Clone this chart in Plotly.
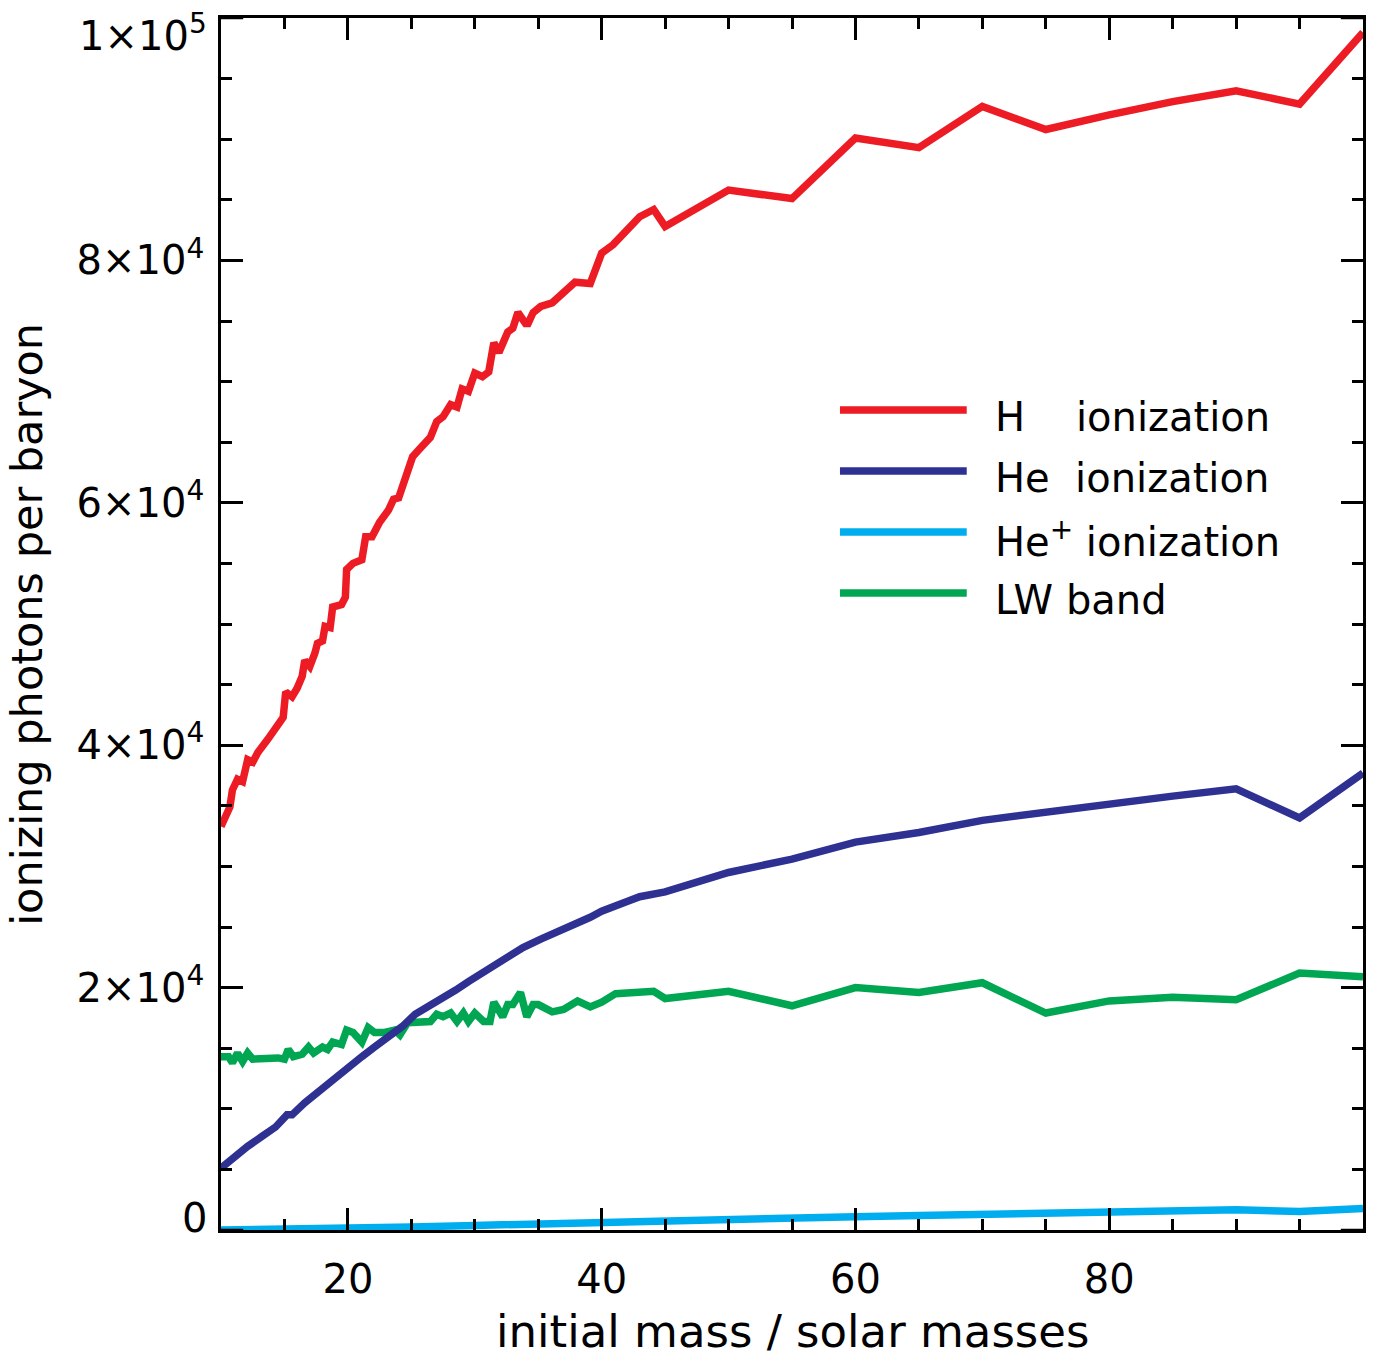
import plotly.graph_objects as go

# ---- data (photons per baryon, in units of 1000) ----
mass_h = [10.0, 10.3, 10.7, 10.9, 11.3, 11.7, 12.1, 12.5, 12.9, 13.7,
          14.4, 14.9, 15.1, 15.6, 16.0, 16.4, 16.6, 17.0, 17.4, 17.6,
          18.0, 18.2, 18.6, 18.8, 19.5, 19.8, 19.9, 20.4, 21.1, 21.4,
          21.9, 22.5, 23.2, 23.6, 24.0, 24.5, 25.1, 25.7, 26.5, 27.0,
          27.5, 28.1, 28.6, 29.0, 29.5, 30.0, 30.6, 31.1, 31.5, 31.9,
          32.6, 33.0, 33.4, 34.0, 34.2, 34.6, 35.2, 36.1, 37.0, 37.9,
          39.1, 40.0, 40.9, 42.0, 43.0, 44.1, 45.0,
          50, 55, 60, 65, 70, 75, 80, 85, 90, 95, 100]
h_ion = [33.3, 34.1, 34.9, 36.3, 37.2, 37.0, 38.8, 38.6, 39.4, 40.5,
         41.5, 42.3, 44.4, 44.0, 44.7, 45.7, 47.0, 46.5, 47.6, 48.4,
         48.6, 49.8, 49.7, 51.4, 51.6, 52.2, 54.5, 55.0, 55.3, 57.2,
         57.2, 58.4, 59.4, 60.3, 60.4, 62.1, 63.8, 64.5, 65.4, 66.7,
         67.1, 68.1, 67.9, 69.4, 69.2, 70.7, 70.4, 70.8, 73.2, 72.4,
         74.1, 74.4, 75.7, 74.8, 74.8, 75.7, 76.2, 76.5, 77.4, 78.2,
         78.1, 80.6, 81.3, 82.5, 83.6, 84.2, 82.8,
         85.8, 85.1, 90.1, 89.3, 92.7, 90.8, 92.0, 93.1, 94.0, 92.9, 98.8]

mass_he = [10.0, 11.1, 12.1, 13.2, 14.3, 15.2, 15.6, 16.6, 17.4, 18.2,
           19.2, 20.0, 21.1, 22.1, 23.2, 24.3, 25.3, 26.3, 27.4, 28.5,
           29.5, 30.6, 31.6, 32.6, 33.8, 35.2, 36.7, 38.1, 39.1, 40.0,
           40.9, 42.0, 43.0, 44.1, 45.0,
           50, 55, 60, 65, 70, 75, 80, 85, 90, 95, 100]
he_ion = [5.1, 6.1, 6.9, 7.7, 8.5, 9.5, 9.5, 10.5, 11.2, 11.8,
          12.7, 13.4, 14.3, 15.1, 15.9, 16.8, 17.8, 18.4, 19.2, 19.8,
          20.5, 21.2, 21.9, 22.6, 23.3, 24.0, 24.7, 25.2, 25.8, 26.3,
          26.6, 27.1, 27.5, 27.8, 27.9,
          29.5, 30.6, 32.0, 32.8, 33.8, 34.5, 35.1, 35.8, 36.4, 34.0, 37.7]

mass_hep = [10, 15, 20, 25, 30, 35, 40, 45, 50, 55, 60, 65, 70, 75, 80, 85, 90, 95, 100]
hep_ion = [0.0, 0.05, 0.15, 0.25, 0.38, 0.52, 0.65, 0.76, 0.88, 1.0,
           1.1, 1.2, 1.3, 1.38, 1.5, 1.58, 1.68, 1.52, 1.77]

mass_lw = [10.0, 10.6, 10.9, 11.3, 11.7, 12.1, 12.5, 13.5, 14.5, 15.0,
           15.3, 15.7, 16.4, 16.9, 17.3, 18.0, 18.4, 18.8, 19.5, 19.9,
           20.4, 21.1, 21.6, 22.1, 22.9, 23.7, 24.1, 24.7, 25.7, 26.5,
           27.0, 27.5, 28.1, 28.6, 29.1, 29.5, 30.0, 30.7, 31.2, 31.5,
           32.2, 32.6, 33.0, 33.6, 34.1, 34.6, 35.0, 36.1, 37.0, 38.1,
           39.1, 40.0, 41.1, 42.5, 43.2, 44.1, 45.0,
           50, 55, 60, 65, 70, 75, 80, 85, 90, 95, 100]
lw_band = [14.3, 14.3, 13.8, 14.6, 13.9, 14.6, 14.1, 14.2, 14.2, 14.1,
           14.9, 14.3, 14.5, 15.1, 14.6, 15.1, 14.9, 15.5, 15.3, 16.5,
           16.3, 15.5, 16.7, 16.3, 16.3, 16.5, 16.1, 17.1, 17.2, 17.2,
           17.8, 17.6, 17.9, 17.2, 17.9, 17.2, 17.9, 17.2, 17.2, 18.8,
           17.6, 18.6, 18.6, 19.6, 17.6, 18.6, 18.6, 18.0, 18.2, 18.9,
           18.4, 18.8, 19.5, 19.6, 19.7, 19.7, 19.1,
           19.7, 18.5, 20.0, 19.6, 20.4, 17.9, 18.9, 19.2, 19.0, 21.2, 20.9]

series_names = ["H\u00a0\u00a0\u00a0\u00a0ionization",
                "He\u00a0\u00a0ionization",
                "He<sup>+</sup> ionization",
                "LW band"]
series_colors = ["#ED1C24", "#2E3192", "#00AEEF", "#00A651"]

y_tickvals = [20000, 40000, 60000, 80000]
y_ticktext = ["2×10<sup>4</sup>", "4×10<sup>4</sup>", "6×10<sup>4</sup>", "8×10<sup>4</sup>"]
y_end_vals = [0, 100000]
y_end_text = ["0", "1×10<sup>5</sup>"]
y_end_shift = [12, -15]
x_tickvals = [20, 40, 60, 80]

FONT = "DejaVu Sans"
LW = 7.5

fig = go.Figure()
data_sets = [(mass_h, h_ion, 0), (mass_lw, lw_band, 3), (mass_hep, hep_ion, 2), (mass_he, he_ion, 1)]
for m, v, i in data_sets:
    fig.add_trace(go.Scatter(x=m, y=[a * 1000 for a in v], mode="lines",
                             line=dict(color=series_colors[i], width=LW),
                             name=series_names[i], showlegend=False))

# manual legend
leg_y = [0.6766, 0.6262, 0.5759, 0.5256]
for i in range(4):
    fig.add_shape(type="line", xref="paper", yref="paper",
                  x0=0.542, x1=0.653, y0=leg_y[i], y1=leg_y[i],
                  line=dict(color=series_colors[i], width=LW))
    fig.add_annotation(xref="paper", yref="paper", x=0.676, y=leg_y[i],
                       text=series_names[i], showarrow=False,
                       xanchor="left", yanchor="middle", yshift=-7,
                       font=dict(family=FONT, size=40, color="black"))

# end-of-axis y labels and their long ticks (left and right)
for val, txt, sh in zip(y_end_vals, y_end_text, y_end_shift):
    fig.add_annotation(xref="paper", yref="y", x=0, y=val, text=txt,
                       showarrow=False, xanchor="right", yanchor="middle",
                       xshift=-12, yshift=sh, font=dict(family=FONT, size=40, color="black"))
    fig.add_shape(type="line", xref="x", yref="y", x0=10, x1=11.75, y0=val, y1=val,
                  line=dict(color="black", width=2.5))
    fig.add_shape(type="line", xref="x", yref="y", x0=98.25, x1=100, y0=val, y1=val,
                  line=dict(color="black", width=2.5))

# axis titles
fig.add_annotation(xref="paper", yref="paper", x=0.5, y=-0.084, text="initial mass / solar masses",
                   showarrow=False, xanchor="center", yanchor="middle",
                   font=dict(family=FONT, size=45, color="black"))
fig.add_annotation(xref="paper", yref="paper", x=-0.17, y=0.5, text="ionizing photons per baryon",
                   showarrow=False, xanchor="center", yanchor="middle", textangle=-90,
                   font=dict(family=FONT, size=43, color="black"))

axis_common = dict(showline=True, linewidth=2.5, linecolor="black", mirror="ticks",
                   ticks="inside", ticklen=22, tickwidth=2.5, tickcolor="black",
                   showgrid=False, zeroline=False,
                   tickfont=dict(family=FONT, size=40, color="black"))

fig.update_xaxes(range=[10, 100], tickmode="array", tickvals=x_tickvals,
                 minor=dict(tick0=0, dtick=5, ticks="inside", ticklen=11, tickwidth=2.5,
                            tickcolor="black", showgrid=False),
                 ticklabelstandoff=12, **axis_common)
fig.update_yaxes(range=[0, 100000], tickmode="array", tickvals=y_tickvals, ticktext=y_ticktext,
                 minor=dict(tick0=0, dtick=5000, ticks="inside", ticklen=11, tickwidth=2.5,
                            tickcolor="black", showgrid=False),
                 ticklabelstandoff=6, **axis_common)

fig.update_layout(width=1377, height=1357,
                  margin=dict(l=221, r=14, t=18, b=127),
                  plot_bgcolor="white", paper_bgcolor="white",
                  showlegend=False,
                  font=dict(family=FONT, size=40, color="black"))

fig.write_html("out.html")
